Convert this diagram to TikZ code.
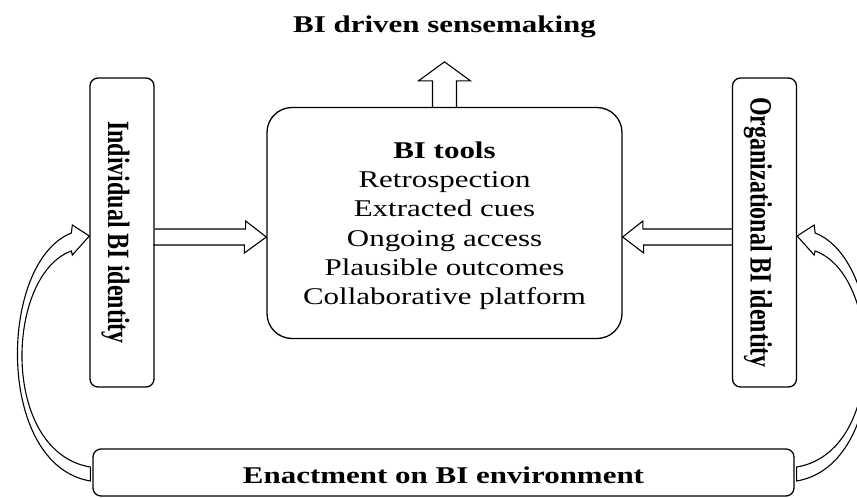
\documentclass[tikz,border=0pt]{standalone}
\usepackage{fontspec}
\setmainfont{Liberation Serif}
\usetikzlibrary{calc}
\newcommand\sx[1]{\scalebox{1.29}[1]{#1}}
\newcommand\vx[1]{\makebox[0pt][c]{\rotatebox{-90}{\scalebox{1}[1.29]{#1}}\hspace{13pt}}}
\begin{document}
\begin{tikzpicture}[x=1pt,y=-1pt,line join=round,
  boxstyle/.style={draw,line width=1.3pt,rounded corners=8pt,inner sep=0pt},
  blk/.style={draw,line width=1.1pt,line join=miter},
  bigfont/.style={font=\fontsize{24}{29.2}\selectfont}]
\clip (0,0) rectangle (857,498);
\fill[white] (0,0) rectangle (857,498);

\node[font=\fontsize{24}{29}\selectfont\bfseries,anchor=base] (T) at (444.5,32) {\sx{BI driven sensemaking}};

\node[boxstyle,minimum width=64pt,minimum height=309pt,font=\fontsize{24}{29}\selectfont\bfseries] (L) at (122,232.5) {\vx{Individual BI identity}};
\node[boxstyle,minimum width=64pt,minimum height=309pt,font=\fontsize{24}{29}\selectfont\bfseries] (R) at (764.5,232.5) {\vx{Organizational BI identity}};

\node[boxstyle,rounded corners=25pt,minimum width=355pt,minimum height=231pt,align=center,bigfont] (M) at (444.5,223)
 {\rule{0pt}{22pt}\sx{\textbf{BI tools}}\\ \sx{Retrospection}\\ \sx{Extracted cues}\\ \sx{Ongoing access}\\ \sx{Plausible outcomes}\\ \sx{Collaborative platform}};

\node[boxstyle,minimum width=701pt,minimum height=47pt,text height=21pt,text depth=0pt,font=\fontsize{24}{29}\selectfont\bfseries] (B) at (443.5,472.5) {\sx{Enactment on BI environment}};

% straight block arrows
\coordinate (lc) at ([yshift=-4.5pt]L.east);
\draw[blk] (lc) ++(0,-8) -- ++(91,0) -- ++(0,-8) -- (lc -| M.west) -- ++(-22,16) -- ++(0,-8) -- ++(-91,0);
\coordinate (rc) at ([yshift=-4.5pt]R.west);
\draw[blk] (rc) ++(0,-8) -- ++(-89,0) -- ++(0,-8) -- (rc -| M.east) -- ++(21,16) -- ++(0,-8) -- ++(89,0);
\draw[blk] (M.north) ++(-12,0) -- ++(0,-26) -- ++(-14,0) -- ($(M.north)+(0,-45)$) -- ++(26,19) -- ++(-14,0) -- ++(0,26);

% curved block arrows
\coordinate (lb) at ([xshift=-2pt]B.west);
\coordinate (lt) at ([yshift=-3.5pt]L.west);
\draw[blk] ($(lb)+(0,8.5)$) .. controls (-5,465) and (-2,262) .. ($(lt)+(-18,-3)$) -- ($(lt)+(-17,-11)$) -- (lt) -- ($(lt)+(-17,19)$) -- ($(lt)+(-18,15)$) .. controls (5,275) and (0,452) .. ($(lb)+(0,-5.5)$) -- cycle;
\coordinate (rb) at ([xshift=2pt]B.east);
\coordinate (rt) at ([yshift=-3.5pt]R.east);
\draw[blk] ($(rb)+(0,8.5)$) .. controls (892,465) and (889,262) .. ($(rt)+(18,-3)$) -- ($(rt)+(17,-11)$) -- (rt) -- ($(rt)+(17,19)$) -- ($(rt)+(18,15)$) .. controls (882,275) and (887,452) .. ($(rb)+(0,-5.5)$) -- cycle;
\end{tikzpicture}
\end{document}
